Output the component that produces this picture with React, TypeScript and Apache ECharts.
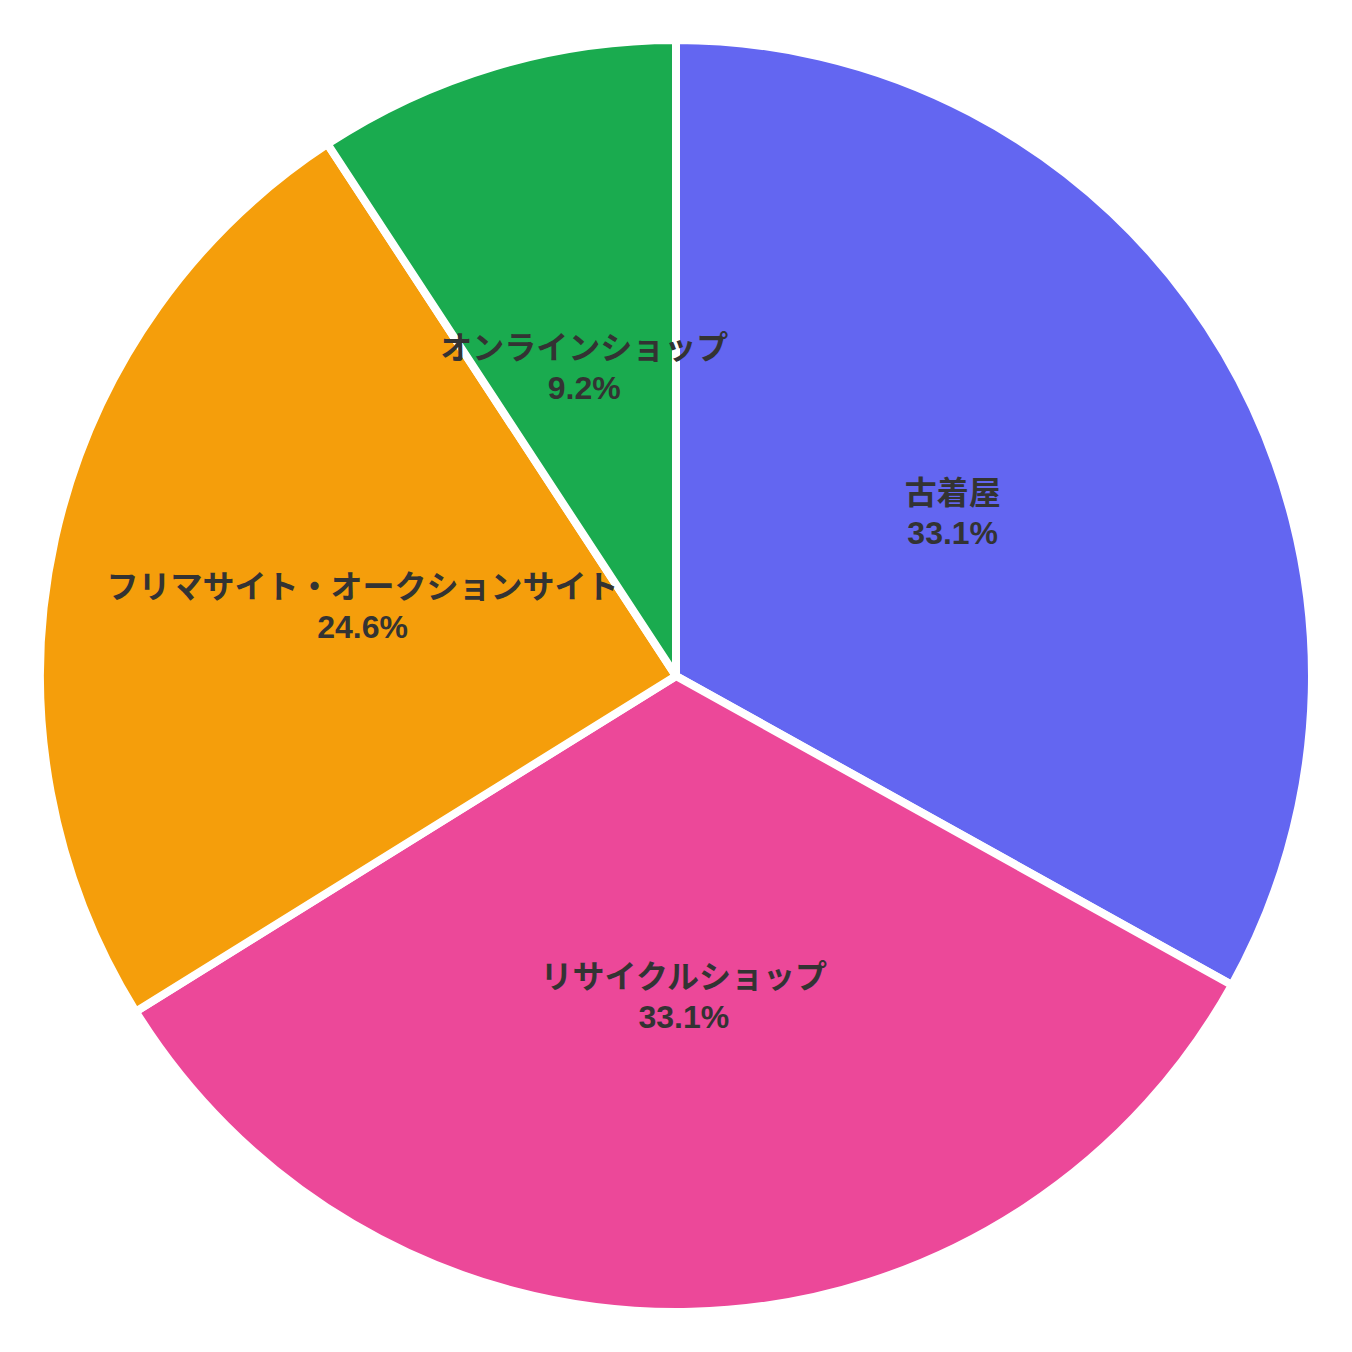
import { useEffect, useRef } from 'react';
import * as echarts from 'echarts';

const categories = ['古着屋', 'リサイクルショップ', 'フリマサイト・オークションサイト', 'オンラインショップ'];
const values = [43, 43, 32, 12];
const colors = ['#6366f1', '#ec4899', '#f59e0b', '#1aab4f'];

export default function App() {
  const chartRef = useRef<HTMLDivElement>(null);

  useEffect(() => {
    document.body.style.margin = '0';
    if (!chartRef.current) return;

    const chart = echarts.init(chartRef.current, null, { renderer: 'svg' });

    const option = {
      animation: false,
      series: [
        {
          type: 'pie',
          center: [676, 676],
          radius: 636,
          startAngle: 90,
          clockwise: true,
          data: categories.map((name, i) => ({
            name,
            value: values[i],
            itemStyle: { color: colors[i] },
          })),
          itemStyle: {
            borderColor: '#ffffff',
            borderWidth: 8,
          },
          label: {
            show: true,
            position: 'inside',
            formatter: (p: any) => `${p.name}\n${p.percent.toFixed(1)}%`,
            color: '#333333',
            fontSize: 32,
            fontWeight: 'bold',
            lineHeight: 40,
            fontFamily: 'Arial, "Liberation Sans", "Noto Sans CJK JP", sans-serif',
          },
          labelLine: { show: false },
        },
      ],
    };

    chart.setOption(option);

    return () => {
      chart.dispose();
    };
  }, []);

  return <div ref={chartRef} style={{ width: '1352px', height: '1352px' }} />;
}
